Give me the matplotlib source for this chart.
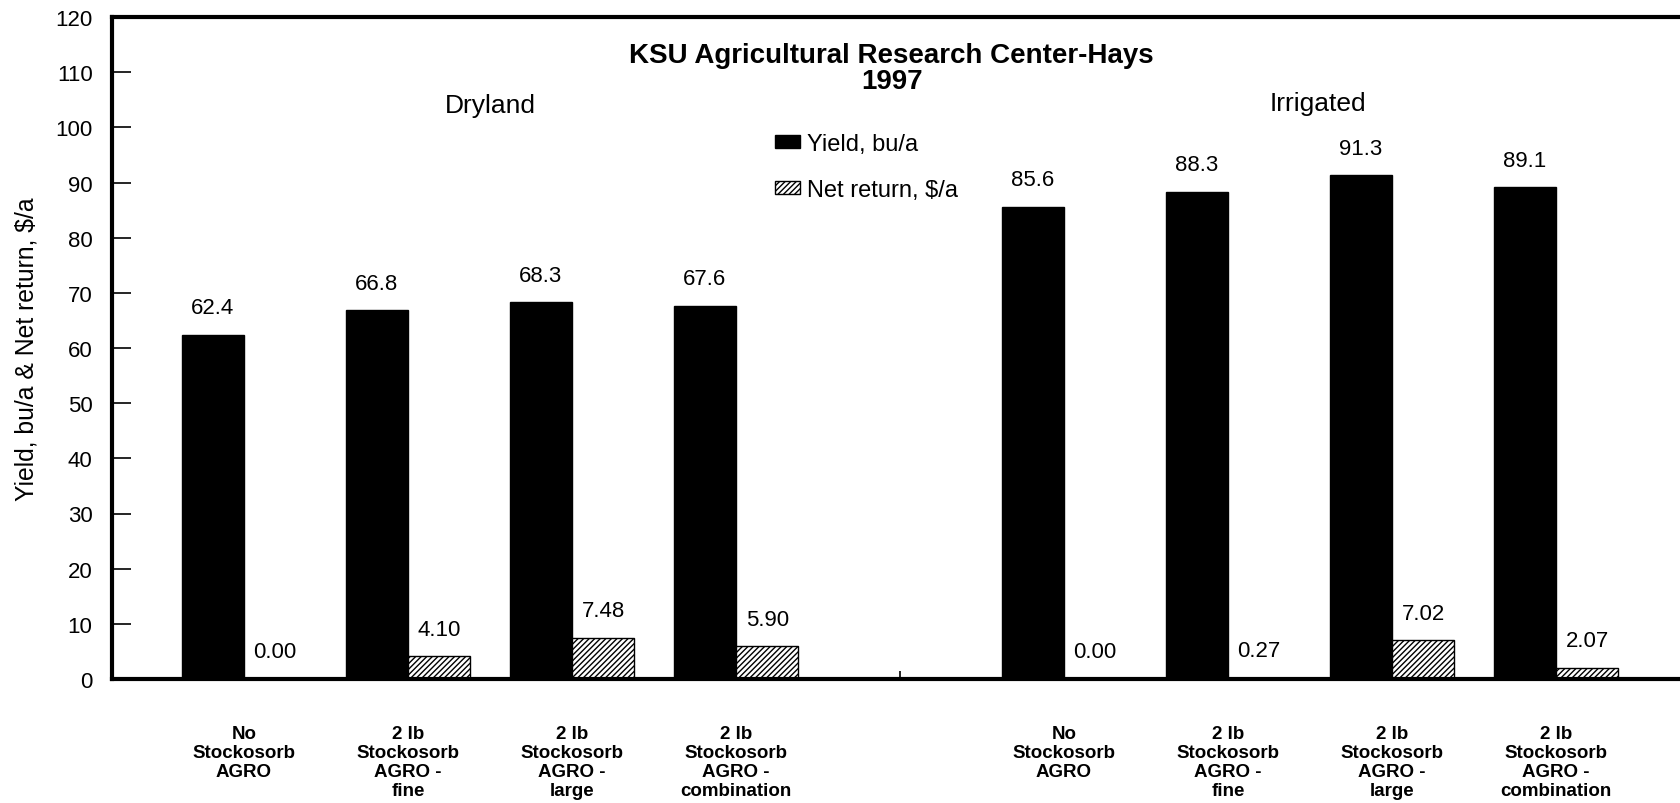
import numpy as np
import matplotlib
matplotlib.use("Agg")
import matplotlib.pyplot as plt

plt.rcParams['font.family'] = ['Liberation Sans', 'DejaVu Sans']
plt.rcParams['hatch.linewidth'] = 1.0

# values
treatments = ["No\nStockosorb\nAGRO",
              "2 lb\nStockosorb\nAGRO -\nfine",
              "2 lb\nStockosorb\nAGRO -\nlarge",
              "2 lb\nStockosorb\nAGRO -\ncombination"]
dry_yield = [62.4, 66.8, 68.3, 67.6]
dry_return = [0.00, 4.10, 7.48, 5.90]
irr_yield = [85.6, 88.3, 91.3, 89.1]
irr_return = [0.00, 0.27, 7.02, 2.07]

yields = dry_yield + irr_yield
returns = dry_return + irr_return
labels = treatments + treatments
# slot 4 is the empty gap between Dryland and Irrigated
pos = np.array([0, 1, 2, 3, 5, 6, 7, 8])
bw = 0.38

fig = plt.figure(figsize=(16.8, 8.04), dpi=100)
ax = fig.add_axes([112 / 1680, 124 / 804, 1576 / 1680, 662 / 804])

b1 = ax.bar(pos - bw / 2, yields, bw, color='black', edgecolor='black',
            label='Yield, bu/a')
b2 = ax.bar(pos + bw / 2, returns, bw, color='white', edgecolor='black',
            hatch='//////', linewidth=1, label='Net return, $/a')

for x, v in zip(pos, yields):
    ax.annotate(f"{v:.1f}", (x - bw / 2, v), xytext=(0, 12), textcoords='offset points',
                ha='center', va='bottom', fontsize=16)
for x, v in zip(pos, returns):
    ax.annotate(f"{v:.2f}", (x + bw / 2, v), xytext=(0, 12), textcoords='offset points',
                ha='center', va='bottom', fontsize=16)

ax.set_xlim(-0.805, 8.805)
ax.set_ylim(0, 120)
ax.set_yticks(np.arange(0, 121, 10))
ax.tick_params(axis='y', direction='in', length=14, width=1.2, pad=14, labelsize=16)

ax.set_xticks(pos)
ax.set_xticklabels(labels, fontsize=13.5, fontweight='bold', linespacing=1.15)
ax.tick_params(axis='x', length=0, pad=33)
ax.set_xticks([4], minor=True)
ax.tick_params(axis='x', which='minor', direction='in', length=6, width=1.2)

for s in ax.spines.values():
    s.set_linewidth(3)

ax.set_ylabel("Yield, bu/a & Net return, $/a", fontsize=17.8, labelpad=12)

ax.text(3.95, 110.7, "KSU Agricultural Research Center-Hays\n1997", ha='center', va='center',
        fontsize=20, fontweight='bold', linespacing=1.0)
ax.text(1.5, 104, "Dryland", ha='center', va='center', fontsize=19)
ax.text(6.55, 104.5, "Irrigated", ha='center', va='center', fontsize=19)

ax.legend(handles=[b1, b2], loc='upper left', bbox_to_anchor=(775 / 1680, 1 - 134 / 804),
          bbox_transform=fig.transFigure, frameon=False, fontsize=17, borderpad=0,
          borderaxespad=0, handlelength=1.06, handleheight=0.5, handletextpad=0.3,
          labelspacing=1.0)

fig.savefig("out.png", dpi=100)
